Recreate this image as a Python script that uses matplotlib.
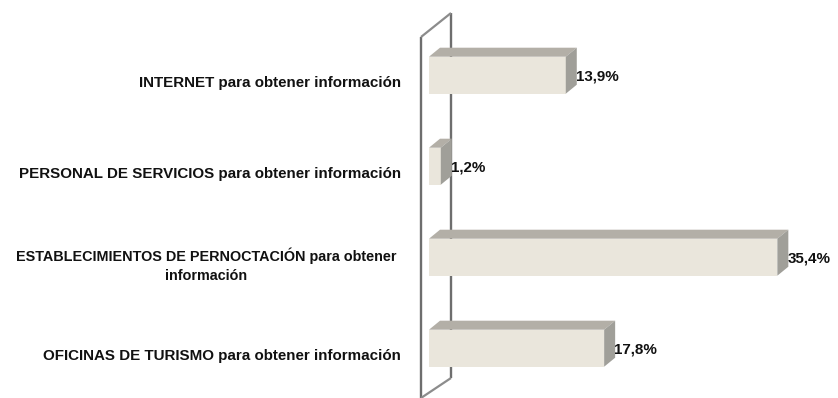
import matplotlib
matplotlib.use("Agg")
import matplotlib.pyplot as plt
from matplotlib.patches import Polygon
from matplotlib.lines import Line2D

categories = [
    "INTERNET para obtener información",
    "PERSONAL DE SERVICIOS para obtener información",
    "ESTABLECIMIENTOS DE PERNOCTACIÓN para obtener\ninformación",
    "OFICINAS DE TURISMO para obtener información",
]
values = [13.9, 1.2, 35.4, 17.8]
value_labels = ["13,9%", "1,2%", "35,4%", "17,8%"]

FRONT = "#EAE6DC"
TOP = "#B3AFA7"
SIDE = "#A09F99"
WALL = "#6E6E6E"
FONT = "Liberation Sans"
FS = 10.9

W, H = 838, 398
fig = plt.figure(figsize=(W / 100, H / 100), dpi=100)
ax_left = 429 / W
ax = fig.add_axes([ax_left, 0, 1 - ax_left, 1])
px_per_unit_x = 9.84
px_per_cat = 91.0
first_center_px = 75.2
ax.set_xlim(0, (W - 429) / px_per_unit_x)
ax.set_ylim((H - first_center_px) / px_per_cat, -first_center_px / px_per_cat)
ax.axis("off")

bar_h = 37 / px_per_cat
dx = 11 / px_per_unit_x
dy = 9 / px_per_cat
ypos = list(range(len(categories)))

ax.barh(ypos, values, height=bar_h, color=FRONT, edgecolor="none", zorder=3)
for y, v, lab in zip(ypos, values, value_labels):
    top = y - bar_h / 2
    bot = y + bar_h / 2
    ax.add_patch(Polygon([(0, top), (v, top), (v + dx, top - dy), (dx, top - dy)],
                         closed=True, facecolor=TOP, edgecolor="none", zorder=3))
    ax.add_patch(Polygon([(v, top), (v + dx, top - dy), (v + dx, bot - dy), (v, bot)],
                         closed=True, facecolor=SIDE, edgecolor="none", zorder=3))
    ax.text(v + dx - 0.1, y + 0.015, lab, ha="left", va="center", fontsize=FS,
            fontweight="bold", family=FONT, color="#111111", zorder=4)

# category labels
for y, cat in zip(ypos, categories):
    multi = "\n" in cat
    ax.text(-(33 if multi else 28) / px_per_unit_x, y + 0.09, cat, ha="right", va="center",
            fontsize=10.4 if multi else FS, fontweight="bold", family=FONT, color="#111111",
            multialignment="center", linespacing=1.45, clip_on=False)

# 3-D wall decoration (figure pixel coordinates), drawn behind the bars
def fx(p):
    return p / W

def fy(p):
    return 1 - p / H

for xs, ys, lw, c in [
    ([421, 421], [37, 400], 1.7, WALL),
    ([451, 451], [13, 378], 1.7, WALL),
    ([421, 451], [37, 13], 1.6, "#8C8C8C"),
    ([421, 451], [398, 378], 1.6, "#8C8C8C"),
]:
    fig.add_artist(Line2D([fx(x) for x in xs], [fy(y) for y in ys], lw=lw, color=c, zorder=-1,
                          solid_capstyle="butt"))

fig.savefig("out.png", dpi=100)
